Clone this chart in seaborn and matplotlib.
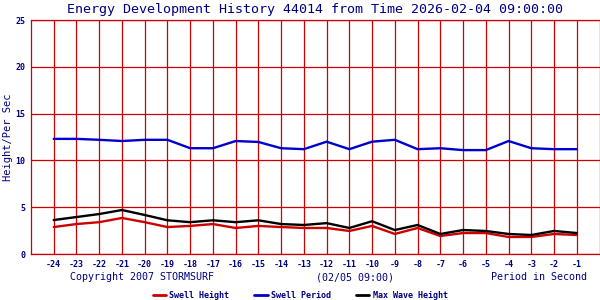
import matplotlib
matplotlib.use("Agg")
import matplotlib.pyplot as plt
import seaborn as sns
import pandas as pd
from matplotlib.lines import Line2D

hours = list(range(-24, 0))
swell_height = [2.88, 3.2, 3.4, 3.85, 3.4, 2.88, 3.0, 3.2, 2.78, 3.0, 2.88, 2.78,
                2.78, 2.46, 3.0, 2.14, 2.78, 1.92, 2.24, 2.24, 1.82, 1.82, 2.14, 2.03]
swell_period = [12.3, 12.3, 12.2, 12.07, 12.2, 12.2, 11.3, 11.3, 12.07, 11.97, 11.3, 11.2,
                12.0, 11.2, 12.0, 12.2, 11.2, 11.3, 11.1, 11.1, 12.07, 11.3, 11.2, 11.2]
max_wave = [3.63, 3.95, 4.27, 4.7, 4.17, 3.6, 3.4, 3.6, 3.4, 3.6, 3.2, 3.1,
            3.3, 2.78, 3.5, 2.56, 3.1, 2.14, 2.56, 2.46, 2.14, 2.03, 2.46, 2.24]
series_names = ["Swell Height", "Swell Period", "Max Wave Height"]
y_ticks = [0, 5, 10, 15, 20, 25]

RED = "#cc0000"
BLUE = "#0000cc"
NAVY = "#000080"
colors = {"Swell Height": RED, "Swell Period": BLUE, "Max Wave Height": "#000000"}

df = pd.DataFrame({"hour": hours * 3,
                   "value": swell_height + swell_period + max_wave,
                   "series": [series_names[0]] * 24 + [series_names[1]] * 24 + [series_names[2]] * 24})

sns.set_style("white")
plt.rcParams["font.family"] = ["DejaVu Sans Mono", "DejaVu Sans"]

fig = plt.figure(figsize=(6, 3), dpi=100)
ax = fig.add_axes([31 / 600, 1 - 254 / 300, 568.5 / 600, 234 / 300])

for name in series_names:
    sub = df[df["series"] == name]
    sns.lineplot(data=sub, x="hour", y="value", ax=ax, color=colors[name],
                 linewidth=1.7, legend=False)

ax.set_xlim(-25, 0)
ax.set_ylim(0, 25)
ax.set_xticks(hours)
ax.set_xticklabels([str(h) for h in hours])
ax.set_yticks(y_ticks)
ax.set_yticklabels([str(t) for t in y_ticks])
ax.tick_params(length=0, labelsize=6, labelcolor=NAVY, pad=4)
for lab in ax.get_xticklabels() + ax.get_yticklabels():
    lab.set_fontweight("bold")
ax.grid(True, color=RED, linewidth=0.9)
ax.set_axisbelow(True)
for s in ax.spines.values():
    s.set_color(RED)
    s.set_linewidth(0.9)
ax.set_xlabel("")
ax.set_ylabel("Height/Per Sec", color=NAVY, fontsize=7.5, labelpad=2)

fig.text(315 / 600, 1 - 9 / 300, "Energy Development History 44014 from Time 2026-02-04 09:00:00",
         ha="center", va="center", color=NAVY, fontsize=9.6)
fig.text(70 / 600, 1 - 277 / 300, "Copyright 2007 STORMSURF", ha="left", va="center",
         color=NAVY, fontsize=7.2)
fig.text(355 / 600, 1 - 277 / 300, "(02/05 09:00)", ha="center", va="center",
         color=NAVY, fontsize=7.2)
fig.text(587 / 600, 1 - 277 / 300, "Period in Second", ha="right", va="center",
         color=NAVY, fontsize=7.2)

handles = [Line2D([0], [0], color=colors[n], linewidth=2) for n in series_names]
leg = fig.legend(handles, series_names, loc="center", bbox_to_anchor=(0.5, 1 - 295 / 300),
                 ncol=3, frameon=False, fontsize=6, handlelength=1.6, handletextpad=0.4,
                 columnspacing=3.0, labelcolor=NAVY, borderpad=0, borderaxespad=0)
for t in leg.get_texts():
    t.set_fontweight("bold")

fig.savefig("out.png", dpi=100)
